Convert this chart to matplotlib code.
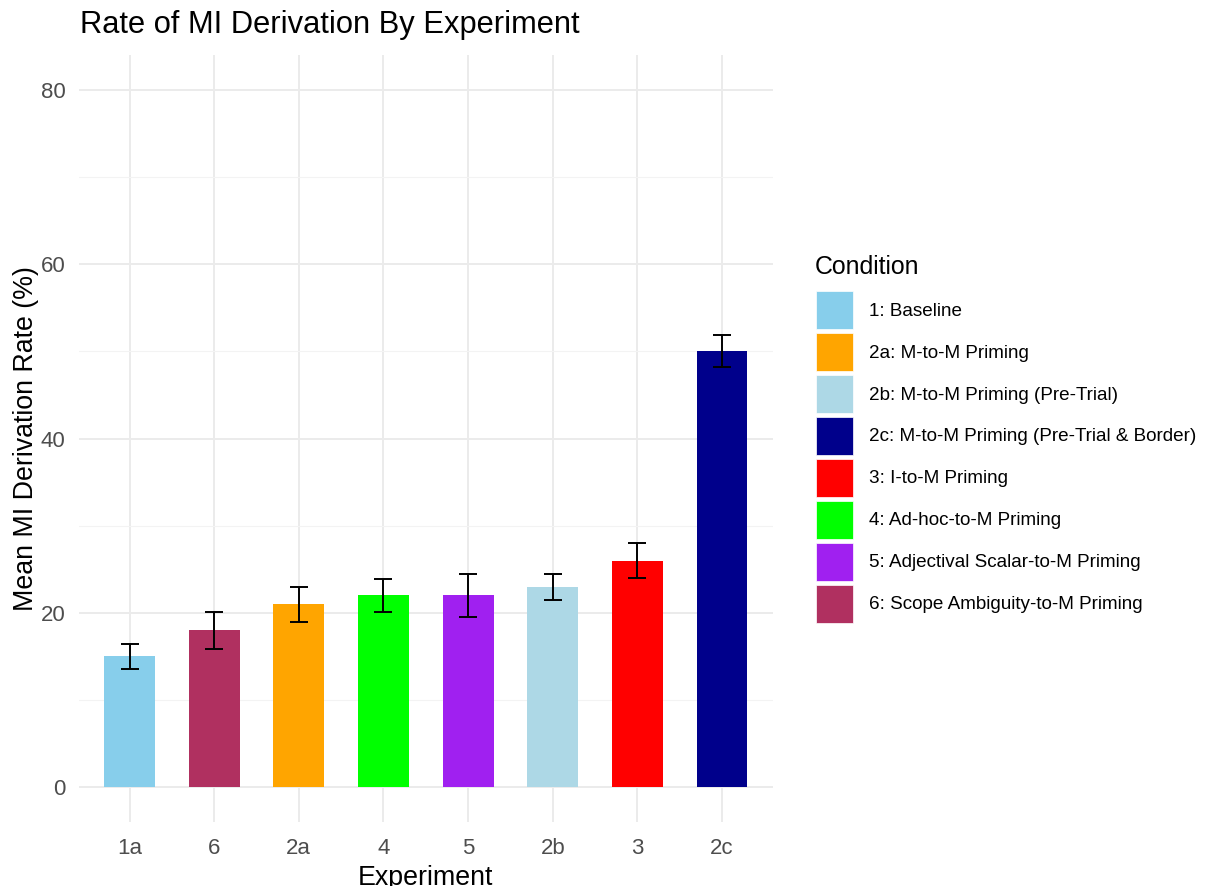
import matplotlib.pyplot as plt
from matplotlib.patches import Patch
from matplotlib.ticker import MultipleLocator

plt.rcParams['font.family'] = ['Liberation Sans', 'DejaVu Sans']

# Bars in the order shown on the x axis
experiments = ['1a', '6', '2a', '4', '5', '2b', '3', '2c']
means = [15, 18, 21, 22, 22, 23, 26, 50]
errors = [1.4, 2.1, 2.0, 1.9, 2.45, 1.5, 2.0, 1.85]

# Legend entries (condition label -> colour)
conditions = ['1: Baseline', '2a: M-to-M Priming', '2b: M-to-M Priming (Pre-Trial)',
              '2c: M-to-M Priming (Pre-Trial & Border)', '3: I-to-M Priming',
              '4: Ad-hoc-to-M Priming', '5: Adjectival Scalar-to-M Priming',
              '6: Scope Ambiguity-to-M Priming']
cond_colors = ['#87CEEB', '#FFA500', '#ADD8E6', '#00008B', '#FF0000',
               '#00FF00', '#A020F0', '#B03060']
bar_condition = ['1: Baseline', '6: Scope Ambiguity-to-M Priming', '2a: M-to-M Priming',
                 '4: Ad-hoc-to-M Priming', '5: Adjectival Scalar-to-M Priming',
                 '2b: M-to-M Priming (Pre-Trial)', '3: I-to-M Priming',
                 '2c: M-to-M Priming (Pre-Trial & Border)']

color_of = dict(zip(conditions, cond_colors))
bar_colors = [color_of[c] for c in bar_condition]

fig = plt.figure(figsize=(12.11, 8.86), dpi=100)
ax = fig.add_axes([0.065, 0.0722, 0.5732, 0.8657])

x = list(range(len(experiments)))
ax.bar(x, means, width=0.6, color=bar_colors, zorder=2)
ax.errorbar(x, means, yerr=errors, fmt='none', ecolor='black', elinewidth=1.4,
            capsize=6.4, capthick=1.4, zorder=3)

ax.set_xlim(-0.6, len(experiments) - 0.4)
ax.set_ylim(-4, 84)
ax.set_xticks(x)
ax.set_xticklabels(experiments)
ax.yaxis.set_minor_locator(MultipleLocator(10))
ax.set_yticks([0, 20, 40, 60, 80])

ax.grid(True, which='major', color='#EBEBEB', linewidth=1.4, zorder=0)
ax.grid(True, which='minor', axis='y', color='#F3F3F3', linewidth=0.8, zorder=0)
ax.set_axisbelow(True)
for s in ax.spines.values():
    s.set_visible(False)
ax.tick_params(axis='both', which='both', length=0, labelsize=16,
               labelcolor='#4D4D4D')
ax.tick_params(axis='x', pad=11.8)
ax.tick_params(axis='y', pad=9.5)

ax.set_xlabel('Experiment', fontsize=19.3, labelpad=4)
ax.set_ylabel('Mean MI Derivation Rate (%)', fontsize=19.3, labelpad=1.5)
fig.text(0.066, 0.972, 'Rate of MI Derivation By Experiment', fontsize=22.2,
         ha='left', va='center')

# legend: title placed as its own text, patches below it
fig.text(0.673, 0.6986, 'Condition', fontsize=17.9, ha='left', va='center')
handles = [Patch(facecolor=c, edgecolor='white', linewidth=0.5) for c in cond_colors]
ax.legend(handles, conditions, loc='upper left', bbox_to_anchor=(1.0622, 0.6923),
          frameon=False, fontsize=13.6, handlelength=1.96, handleheight=2.716,
          labelspacing=0.21, handletextpad=0.85, borderaxespad=0, borderpad=0)

fig.savefig('out.png', dpi=100, facecolor='white')
